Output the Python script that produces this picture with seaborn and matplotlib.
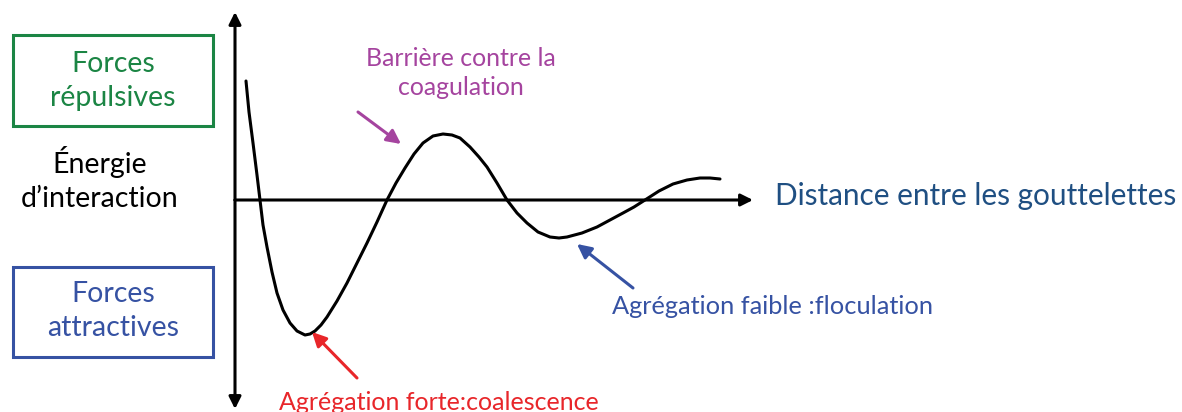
import matplotlib
matplotlib.use("Agg")
import matplotlib.pyplot as plt
import seaborn as sns
from matplotlib.patches import Rectangle, FancyArrowPatch

sns.set_theme(style="white")
plt.rcParams['font.family'] = ['Lato', 'DejaVu Sans']

# Curve data (schematic interaction energy vs droplet distance)
distance = [11, 14, 18, 22, 25, 28, 32, 37, 42, 48, 55, 62, 70, 75, 80, 86, 92, 102,
            112, 122, 132, 142, 152, 161, 170, 179, 188, 198, 208, 217, 225, 235, 244,
            252, 262, 272, 282, 292, 303, 315, 324, 332, 347, 362, 375, 388, 399, 410,
            424, 438, 452, 465, 475, 485]
energy = [119, 88, 57, 25, 0, -25, -47, -72, -93, -110, -123, -131, -135, -134, -131,
          -125, -117, -101, -83, -63, -43, -22, 0, 17, 32, 46, 57, 64, 66, 65, 62, 53,
          43, 33, 17, 0, -13, -23, -32, -37, -38, -37, -33, -27, -20, -13, -7, 0, 9,
          16, 20, 22, 22, 21]

labels = {
    "rep": "Forces\nrépulsives",
    "att": "Forces\nattractives",
    "yaxis": "Énergie\nd’interaction",
    "xaxis": "Distance entre les gouttelettes",
    "barrier": "Barrière contre la\ncoagulation",
    "strong": "Agrégation forte:coalescence",
    "weak": "Agrégation faible :floculation",
}

W, H = 1182, 412
fig = plt.figure(figsize=(W / 100, H / 100), dpi=100)
ax = fig.add_axes([0, 0, 1, 1])
ax.set_xlim(-235, W - 235)
ax.set_ylim(200 - H, 200)
ax.axis("off")

sns.lineplot(x=distance, y=energy, sort=False, color="black", linewidth=2.2, ax=ax)

# axes arrows
axkw = dict(arrowstyle="-|>,head_length=0.6,head_width=0.3", color="black", lw=2.2,
            shrinkA=0, shrinkB=0)
ax.annotate("", xy=(0, 188), xytext=(0, 0), arrowprops=axkw)
ax.annotate("", xy=(0, -209), xytext=(0, 0), arrowprops=axkw)
ax.annotate("", xy=(518, 0), xytext=(0, 0), arrowprops=axkw)


def fx(x, y):
    return (x / W, 1 - y / H)


green = "#1b8544"
blue = "#3652a3"
magenta = "#a5449f"
red = "#e8262a"
navy = "#1f4f82"

for (x0, y0, x1, y1, c) in [(13, 35, 213, 126, green), (13, 267, 213, 357, blue)]:
    fig.patches.append(Rectangle(fx(x0, y1), (x1 - x0) / W, (y1 - y0) / H,
                                 transform=fig.transFigure, fill=False,
                                 edgecolor=c, linewidth=2.2))

fs = 20.5
fig.text(*fx(113, 81), labels["rep"], color=green, ha="center", va="center",
         fontsize=fs, linespacing=1.42)
fig.text(*fx(113, 311), labels["att"], color=blue, ha="center", va="center",
         fontsize=fs, linespacing=1.35)
fig.text(*fx(100, 179), labels["yaxis"], color="black", ha="center", va="center",
         fontsize=fs, linespacing=1.42)
fig.text(*fx(976, 196), labels["xaxis"], color=navy, ha="center", va="center",
         fontsize=21.4)
fig.text(*fx(461, 73), labels["barrier"], color=magenta, ha="center", va="center",
         fontsize=17.9, linespacing=1.3)
fig.text(*fx(439, 402), labels["strong"], color=red, ha="center", va="center",
         fontsize=18)
fig.text(*fx(772, 307), labels["weak"], color=blue, ha="center", va="center",
         fontsize=18.3)

ann = lambda c: dict(arrowstyle="-|>,head_length=0.7,head_width=0.35", color=c, lw=2.2,
                     shrinkA=0, shrinkB=0)
fig.add_artist(FancyArrowPatch(fx(358, 112), fx(401, 144),
               transform=fig.transFigure, mutation_scale=12, **ann(magenta)))
fig.add_artist(FancyArrowPatch(fx(357, 378), fx(312, 332),
               transform=fig.transFigure, mutation_scale=12, **ann(red)))
fig.add_artist(FancyArrowPatch(fx(633, 288), fx(577, 244),
               transform=fig.transFigure, mutation_scale=12, **ann(blue)))

fig.savefig("out.png", dpi=100)
